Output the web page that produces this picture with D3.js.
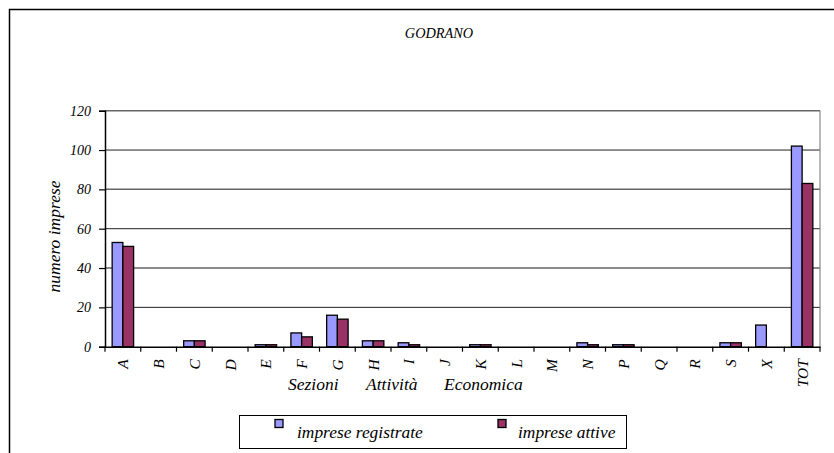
<!DOCTYPE html>
<html><head><meta charset="utf-8">
<script src="https://cdn.jsdelivr.net/npm/d3@7/dist/d3.min.js"></script>
<style>body{margin:0;background:#fff;}</style></head>
<body>
<svg id="chart" width="834" height="453"></svg>
<script>
const categories = ["A","B","C","D","E","F","G","H","I","J","K","L","M","N","P","Q","R","S","X","TOT"];
const registrate = [53,0,3,0,1,7,16,3,2,0,1,0,0,2,1,0,0,2,11,102];
const attive     = [51,0,3,0,1,5,14,3,1,0,1,0,0,1,1,0,0,2,0,83];
const yTicks = [0,20,40,60,80,100,120];
const seriesNames = ["imprese registrate","imprese attive"];
const colors = ["#9999FF","#993366"];
const title = "GODRANO";
const yLabel = "numero imprese";
const xLabelWords = ["Sezioni","Attività","Economica"];

const FONT = "Liberation Serif";
function serif(sel, size){
  return sel.attr("font-family",FONT).style("font-family",FONT).attr("font-style","italic").style("font-style","italic")
    .attr("font-size",size).style("font-size",size+"px").attr("fill","#000");
}

const svg = d3.select("#chart");
svg.append("rect").attr("x",9.5).attr("y",9.5).attr("width",840).attr("height",460)
  .attr("fill","none").attr("stroke","#000").attr("stroke-width",1.5);

const L=105, R=820, T=110.7, B=346.7;
const xb = d3.scaleBand().domain(categories).range([L,R]);
const y = d3.scaleLinear().domain([0,120]).range([B,T]);

svg.append("g").selectAll("line").data(yTicks.filter(d=>d>0)).join("line")
  .attr("x1",L).attr("x2",R).attr("y1",d=>y(d)).attr("y2",d=>y(d))
  .attr("stroke",d=> (d%40===20)?"#222":"#666").attr("stroke-width",d=> (d%40===20)?1:1.5);
svg.append("line").attr("x1",R).attr("x2",R).attr("y1",T).attr("y2",B).attr("stroke","#888").attr("stroke-width",1.2);

const inner = d3.scaleBand().domain([0,1]).range([0, xb.bandwidth()*0.6]);
const off = xb.bandwidth()*0.2;
[registrate, attive].forEach((vals, si)=>{
  svg.append("g").selectAll("rect").data(categories.map((c,i)=>({c,v:vals[i]}))).join("rect")
    .attr("x",d=>xb(d.c)+off+inner(si)).attr("width",inner.bandwidth())
    .attr("y",d=>y(d.v)).attr("height",d=>y(0)-y(d.v))
    .attr("fill",colors[si]).attr("stroke","#000").attr("stroke-width",1.3);
});

const ya = svg.append("g").attr("transform",`translate(${L},0)`)
  .call(d3.axisLeft(y).tickValues(yTicks).tickSize(6).tickPadding(8));
ya.select(".domain").attr("stroke","#000").attr("stroke-width",1.5);
ya.selectAll(".tick line").attr("stroke","#000").attr("stroke-width",1.2);
serif(ya.selectAll("text"),14);

const xa = svg.append("g").attr("transform",`translate(0,${B})`)
  .call(d3.axisBottom(xb).tickSize(0).tickPadding(0));
xa.select(".domain").attr("stroke","#000").attr("stroke-width",1.5);
serif(xa.selectAll(".tick text"),15.5).attr("text-anchor","end").attr("dy","0.35em")
  .attr("transform","translate(0,12.5) rotate(-90)");
svg.append("g").selectAll("line").data(d3.range(categories.length+1)).join("line")
  .attr("x1",i=>L+i*xb.step()).attr("x2",i=>L+i*xb.step()).attr("y1",B).attr("y2",B+5)
  .attr("stroke","#000").attr("stroke-width",1.2);

serif(svg.append("text").attr("x",439).attr("y",38).attr("text-anchor","middle"),14.3).text(title);
serif(svg.append("text").attr("transform","translate(60,236.5) rotate(-90)").attr("text-anchor","middle"),17.5).text(yLabel);
const xl = serif(svg.append("text").attr("y",390),17.5);
const xlPos = [288,366,444];
xl.selectAll("tspan").data(xLabelWords).join("tspan").attr("x",(d,i)=>xlPos[i]).text(d=>d);

svg.append("rect").attr("x",239.5).attr("y",415.5).attr("width",387).attr("height",33)
  .attr("fill","none").attr("stroke","#000").attr("stroke-width",1);
const lg = [{x:275,tx:297},{x:498,tx:518}];
seriesNames.forEach((n,i)=>{
  svg.append("rect").attr("x",lg[i].x).attr("y",419.5).attr("width",8).attr("height",8)
    .attr("fill",colors[i]).attr("stroke","#000").attr("stroke-width",1.3);
  serif(svg.append("text").attr("x",lg[i].tx).attr("y",438),17.4).text(n);
});
</script>
</body></html>
